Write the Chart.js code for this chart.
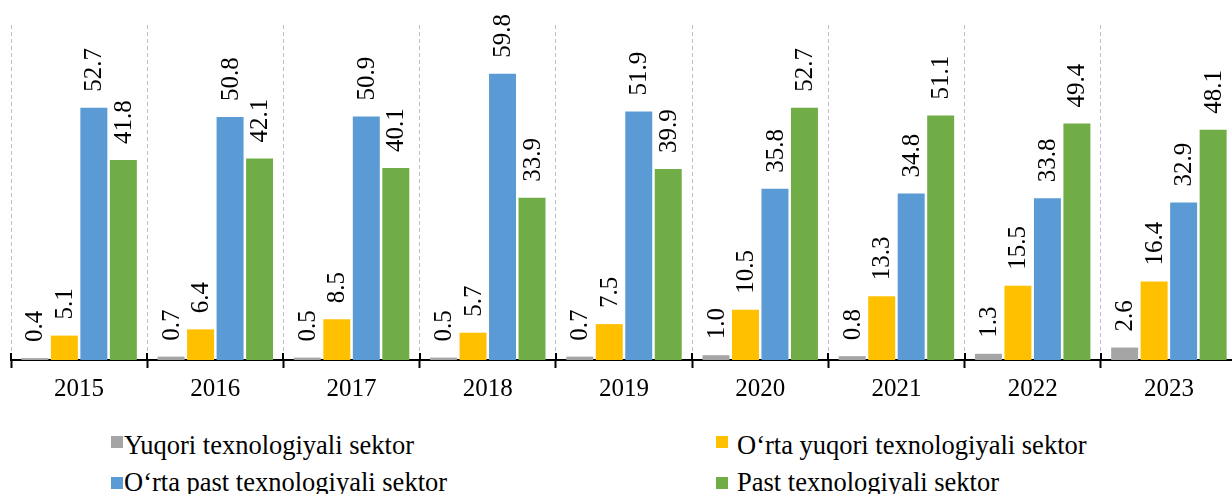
<!DOCTYPE html>
<html>
<head>
<meta charset="utf-8">
<script src="https://cdn.jsdelivr.net/npm/chart.js@4.4.0/dist/chart.umd.min.js"></script>
<style>
  html, body { margin: 0; padding: 0; background: #fff; overflow: hidden; }
  #wrap { position: relative; width: 1240px; height: 494px; }
  #chartBox { position: absolute; left: 0; top: 0; width: 1240px; height: 410px; }
  .leg { position: absolute; font-family: "Liberation Serif", "Times New Roman", serif;
         font-size: 26.5px; color: #000; white-space: nowrap; line-height: 1; }
  .leg i { display: inline-block; width: 12px; height: 12px; }
</style>
</head>
<body>
<div id="wrap">
  <div id="chartBox"><canvas id="c"></canvas></div>
  <div class="leg" style="left:111px; top:432px;"><i style="background:#A5A5A5; margin-right:1px; vertical-align:6px"></i>Yuqori texnologiyali sektor</div>
  <div class="leg" style="left:716px; top:432px;"><i style="background:#FFC000; margin-right:9px; vertical-align:6px"></i>O‘rta yuqori texnologiyali sektor</div>
  <div class="leg" style="left:111px; top:469px;"><i style="background:#5B9BD5; margin-right:1px; vertical-align:2px"></i>O‘rta past texnologiyali sektor</div>
  <div class="leg" style="left:716px; top:469px;"><i style="background:#70AD47; margin-right:9px; vertical-align:2px"></i>Past texnologiyali sektor</div>
</div>
<script>
const years = ['2015', '2016', '2017', '2018', '2019', '2020', '2021', '2022', '2023'];
const yuqori = [0.4, 0.7, 0.5, 0.5, 0.7, 1.0, 0.8, 1.3, 2.6];
const ortaYuqori = [5.1, 6.4, 8.5, 5.7, 7.5, 10.5, 13.3, 15.5, 16.4];
const ortaPast = [52.7, 50.8, 50.9, 59.8, 51.9, 35.8, 34.8, 33.8, 32.9];
const past = [41.8, 42.1, 40.1, 33.9, 39.9, 52.7, 51.1, 49.4, 48.1];

const serif = '"Liberation Serif", "Times New Roman", serif';

// value labels, rotated, above each bar
const barLabels = {
  id: 'barLabels',
  afterDatasetsDraw(chart) {
    const ctx = chart.ctx;
    ctx.save();
    ctx.font = '25px ' + serif;
    ctx.fillStyle = '#000';
    ctx.textAlign = 'left';
    ctx.textBaseline = 'middle';
    chart.data.datasets.forEach((ds, di) => {
      chart.getDatasetMeta(di).data.forEach((bar, i) => {
        ctx.save();
        ctx.translate(bar.x + 1, bar.y - 16);
        ctx.rotate(-Math.PI / 2);
        ctx.fillText(ds.data[i].toFixed(1), 0, 0);
        ctx.restore();
      });
    });
    ctx.restore();
  }
};

// small solid tick marks above the axis at category boundaries
const axisTicks = {
  id: 'axisTicks',
  afterDraw(chart) {
    const xs = chart.scales.x;
    const ctx = chart.ctx;
    const n = years.length;
    ctx.save();
    ctx.strokeStyle = '#000';
    ctx.lineWidth = 2;
    for (let i = 0; i <= n; i++) {
      const x = Math.round(xs.left + i * xs.width / n);
      ctx.beginPath();
      ctx.moveTo(x, xs.top - 7);
      ctx.lineTo(x, xs.top);
      ctx.stroke();
    }
    ctx.restore();
  }
};

new Chart(document.getElementById('c'), {
  type: 'bar',
  data: {
    labels: years,
    datasets: [
      { label: 'Yuqori texnologiyali sektor', data: yuqori, backgroundColor: '#A5A5A5' },
      { label: 'O‘rta yuqori texnologiyali sektor', data: ortaYuqori, backgroundColor: '#FFC000' },
      { label: 'O‘rta past texnologiyali sektor', data: ortaPast, backgroundColor: '#5B9BD5' },
      { label: 'Past texnologiyali sektor', data: past, backgroundColor: '#70AD47' }
    ]
  },
  options: {
    responsive: true,
    maintainAspectRatio: false,
    animation: false,
    datasets: { bar: { categoryPercentage: 0.866, barPercentage: 0.915 } },
    layout: { padding: { left: 11, right: 3, top: 25, bottom: 0 } },
    plugins: { legend: { display: false }, tooltip: { enabled: false } },
    scales: {
      x: {
        grid: {
          offset: true,
          color: '#BFBFBF',
          lineWidth: 1,
          drawTicks: true,
          tickLength: 8,
          tickColor: '#000',
          tickWidth: 2
        },
        border: { display: true, color: '#000', width: 2, dash: [4, 3] },
        ticks: { color: '#000', font: { family: serif, size: 25 }, padding: 6 }
      },
      y: {
        display: false,
        min: 0,
        max: 70
      }
    }
  },
  plugins: [barLabels, axisTicks]
});
</script>
</body>
</html>
